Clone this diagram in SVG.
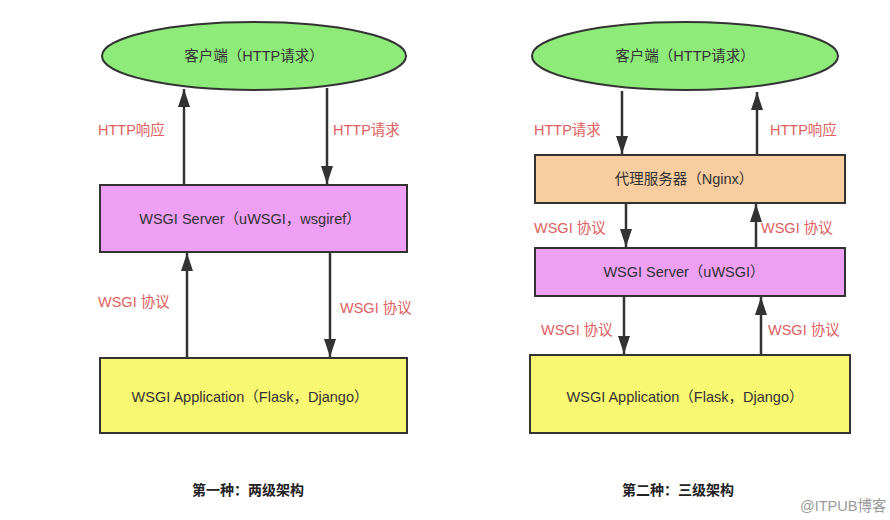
<svg xmlns="http://www.w3.org/2000/svg" width="890" height="520" viewBox="0 0 890 520">
<style>
text{font-family:"Liberation Sans","Noto Sans CJK SC",sans-serif;font-size:14.5px;}
.t{fill:#333;text-anchor:middle;}
.l{fill:#E06060;}
.cap{fill:#222;font-weight:bold;text-anchor:middle;font-size:14px;}
.node{stroke:#333;stroke-width:2;}
.edge{stroke:#333;stroke-width:2.5;fill:none;marker-end:url(#ah);}
</style>
<defs>
<marker id="ah" viewBox="0 0 18 12" refX="18" refY="6" markerWidth="18" markerHeight="12" markerUnits="userSpaceOnUse" orient="auto">
<path d="M0,0 L18,6 L0,12 Z" fill="#333"/>
</marker>
</defs>
<rect width="890" height="520" fill="#fff"/>
<g id="connectors">
<line class="edge" x1="184" y1="185" x2="184" y2="89"/>
<line class="edge" x1="327" y1="88" x2="327" y2="184"/>
<line class="edge" x1="187" y1="358" x2="187" y2="253"/>
<line class="edge" x1="330" y1="252" x2="330" y2="357"/>
<line class="edge" x1="622" y1="91" x2="622" y2="154"/>
<line class="edge" x1="757" y1="155" x2="757" y2="92"/>
<line class="edge" x1="626" y1="203" x2="626" y2="247"/>
<line class="edge" x1="756" y1="248" x2="756" y2="204"/>
<line class="edge" x1="624" y1="296" x2="624" y2="354"/>
<line class="edge" x1="761" y1="355" x2="761" y2="297"/>
</g>
<g id="labels">
<text class="l" x="98" y="135">HTTP响应</text>
<text class="l" x="333" y="135">HTTP请求</text>
<text class="l" x="98" y="307">WSGI 协议</text>
<text class="l" x="340" y="313">WSGI 协议</text>
<text class="l" x="534" y="135">HTTP请求</text>
<text class="l" x="770" y="135">HTTP响应</text>
<text class="l" x="534" y="233">WSGI 协议</text>
<text class="l" x="761" y="233">WSGI 协议</text>
<text class="l" x="541" y="335">WSGI 协议</text>
<text class="l" x="768" y="335">WSGI 协议</text>
</g>
<g id="client1">
<ellipse class="node" cx="254" cy="56" rx="152" ry="34" fill="#8EEB7A"/>
<text class="t" x="254" y="61">客户端（HTTP请求）</text>
</g>
<g id="server1">
<rect class="node" x="100" y="185" width="307" height="67" fill="#EEA0F5"/>
<text class="t" x="250" y="224">WSGI Server（uWSGI，wsgiref）</text>
</g>
<g id="app1">
<rect class="node" x="100" y="358" width="307" height="75" fill="#F8F872"/>
<text class="t" x="250" y="402">WSGI Application（Flask，Django）</text>
</g>
<g id="client2">
<ellipse class="node" cx="685" cy="56" rx="153" ry="34" fill="#8EEB7A"/>
<text class="t" x="685" y="61">客户端（HTTP请求）</text>
</g>
<g id="nginx">
<rect class="node" x="535" y="155" width="310" height="48" fill="#F8CDA0"/>
<text class="t" x="684" y="184">代理服务器（Nginx）</text>
</g>
<g id="server2">
<rect class="node" x="535" y="248" width="310" height="48" fill="#EEA0F5"/>
<text class="t" x="684" y="277">WSGI Server（uWSGI）</text>
</g>
<g id="app2">
<rect class="node" x="530" y="355" width="320" height="78" fill="#F8F872"/>
<text class="t" x="685" y="402">WSGI Application（Flask，Django）</text>
</g>
<text class="cap" x="248" y="495">第一种：两级架构</text>
<text class="cap" x="678" y="495">第二种：三级架构</text>
<text x="800" y="511" fill="#9a9a9a" font-size="13">@ITPUB博客</text>
</svg>
